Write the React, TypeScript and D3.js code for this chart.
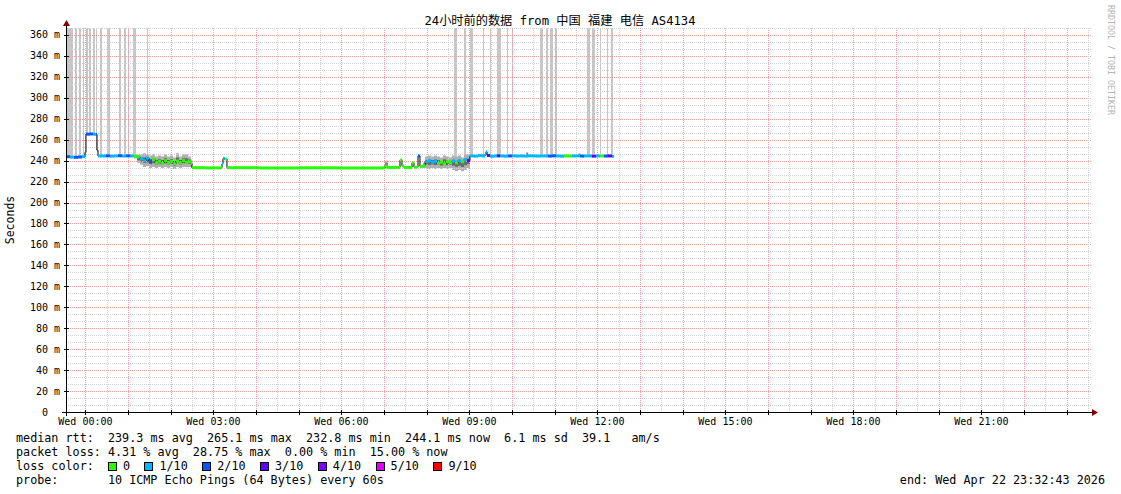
import React from "react";
import * as d3 from "d3";

// SmokePing 24h graph: median RTT coloured by packet loss, smoke = ping spread,
// tall grey bars = intervals where pings went off the top of the graph.

const W = 1121;
const H = 494;
const P = { left: 66, right: 1090, top: 28, bottom: 412 };
const MONO = "'DejaVu Sans Mono', monospace";

// time is in minutes relative to Wed 00:00 (negative = Tuesday evening)
const T_START = -27.28;
const T_END = 1412.72;
const Y_MAX = 366.67;

const xTickMinutes = [0, 180, 360, 540, 720, 900, 1080, 1260];
const xTickLabels = ["Wed 00:00", "Wed 03:00", "Wed 06:00", "Wed 09:00", "Wed 12:00", "Wed 15:00", "Wed 18:00", "Wed 21:00"];
const yTickValues = [0, 20, 40, 60, 80, 100, 120, 140, 160, 180, 200, 220, 240, 260, 280, 300, 320, 340, 360];

// median rtt (ms) and lost pings out of 10
const medT = [
  -27.3, -21.7, -16.0, -10.4, -4.8, -0.6, 0.8, 6.5, 10.7, 14.9, 16.3, 17.7, 23.3, 29.0, 34.6, 40.2, 45.8, 51.5, 57.1, 62.7,
  68.3, 72.6, 76.8, 81.0, 85.2, 89.4, 93.6, 97.9, 102.1, 106.3, 110.5, 114.7, 119.0, 123.2, 127.4, 131.6, 135.8, 140.1, 144.3, 148.5,
  149.9, 168.2, 190.7, 192.1, 193.5, 196.3, 199.1, 245.5, 301.7, 358.0,
  418.5, 421.3, 425.5, 441.0, 442.4, 445.2, 448.0, 457.8, 459.3, 462.1, 466.3, 467.7, 470.5, 474.7,
  477.6, 481.8, 486.0, 490.2, 494.4, 498.7, 502.9, 507.1, 511.3, 515.5, 519.8, 524.0, 528.2, 532.4, 536.6,
  540.8, 546.5, 552.1, 557.7, 561.9, 563.3, 564.8, 569.0, 574.6, 578.8, 583.1, 588.7, 594.3, 599.9, 605.6, 611.2, 616.8, 622.4, 628.1, 633.7,
  639.3, 644.9, 650.6, 656.2, 661.8, 667.4, 673.1, 678.7, 684.3, 689.9, 695.6, 701.2, 706.8, 712.4, 718.1, 723.7, 729.3, 734.9, 740.6, 743.4,
];
const medV = [
  243.8, 243.4, 243.2, 243.5, 243.8, 248.0, 265.3, 265.5, 265.2, 265.0, 250.0, 244.5, 244.5, 244.6, 244.3, 244.5, 244.7, 244.4, 244.6, 244.5,
  244.2, 243.5, 241.5, 240.0, 242.5, 239.0, 241.0, 238.0, 239.5, 237.5, 240.0, 238.0, 239.5, 237.0, 239.5, 238.0, 240.0, 238.5, 239.0, 237.5,
  233.3, 233.1, 233.3, 237.0, 242.0, 241.5, 233.3, 233.0, 233.2, 233.0,
  233.3, 235.0, 233.5, 233.5, 240.5, 235.0, 233.5, 233.5, 238.0, 233.8, 234.0, 244.5, 234.5, 235.5,
  239.0, 240.0, 238.5, 239.5, 237.5, 238.5, 237.0, 239.0, 238.0, 239.5, 238.0, 240.0, 239.0, 241.0, 240.0,
  244.5, 244.3, 244.8, 244.5, 246.0, 248.5, 245.0, 244.2, 244.5, 244.6, 244.5, 244.3, 244.5, 244.6, 244.4, 244.5, 244.4, 244.6, 244.5, 244.4,
  244.5, 244.5, 244.4, 244.6, 244.5, 244.3, 244.5, 244.4, 244.5, 244.6, 244.4, 244.5, 244.5, 244.3, 244.5, 244.5, 244.4, 244.5, 244.1, 244.1,
];
const medLoss = [
  2, 1, 2, 2, 1, 2, 2, 2, 1, 2, 2, 1, 1, 2, 1, 1, 2, 1, 2, 1,
  0, 0, 1, 1, 1, 2, 0, 0, 0, 0, 0, 0, 0, 0, 0, 0, 0, 0, 0, 0,
  0, 0, 0, 1, 1, 0, 0, 0, 0, 0,
  0, 0, 0, 0, 0, 0, 0, 0, 0, 0, 0, 2, 0, 0,
  1, 1, 1, 1, 0, 0, 0, 0, 0, 1, 0, 1, 0, 1, 3,
  1, 1, 1, 1, 1, 1, 3, 1, 1, 3, 1, 1, 2, 1, 1, 1, 1, 1, 1, 1,
  1, 1, 2, 2, 1, 1, 0, 0, 1, 1, 2, 1, 1, 3, 1, 0, 2, 3, 1, 1,
];

// smoke (spread of the 10 pings), null separates pieces
const smokeT = [
  68.3, 72.6, 76.8, 81.0, 85.2, 89.4, 93.6, 97.9, 102.1, 106.3, 110.5, 114.7, 119.0, 123.2, 127.4, 131.6, 135.8, 140.1, 144.3, 148.5, 149.9, null,
  419.9, 421.3, 425.5, 427.0, null,
  474.7, 477.6, 481.8, 486.0, 490.2, 494.4, 498.7, 502.9, 507.1, 511.3, 515.5, 519.8, 524.0, 528.2, 532.4, 536.6, 540.8, null,
  619.8, 622.6, null,
  693.6, 696.4,
];
const smokeLo = [
  242, 238, 236, 234, 235, 233, 234, 233, 234, 233, 234, 233, 234, 232, 234, 233, 234, 234, 234, 233, 233, null,
  233, 232, 233, 233, null,
  233, 233, 232, 233, 232, 233, 232, 233, 232, 233, 231, 230, 231, 230, 231, 233, 243, null,
  244.5, 244.5, null,
  244.5, 244.5,
];
const smokeHi = [
  246, 246, 246, 247, 246, 245, 246, 244, 245, 244, 246, 244, 245, 243, 247, 244, 246, 246, 244, 241, 234, null,
  236, 240, 235, 233, null,
  238, 244, 245, 244, 245, 244, 243, 245, 244, 243, 245, 244, 245, 243, 246, 246, 246, null,
  248, 248, null,
  247, 247,
];

// intervals with pings above the graph top
const offStart = [
  -27.0, -14.6, -8.3, -3.4, 1.5, 5.5, 10.0, 15.6, 21.2, 30.0, 47.3, 53.6, 59.9, 67.6, 86.6,
  518.3, 532.4, 540.8, 559.1, 569.0, 578.8, 592.5, 599.5, 639.3, 647.7, 653.4, 659.7, 705.4, 713.1, 723.7, 734.2, 739.8,
];
const offEnd = [
  -17.9, -11.4, -5.5, -1.3, 4.1, 7.5, 13.5, 17.0, 23.8, 34.6, 49.6, 57.1, 62.0, 71.1, 88.0,
  522.1, 535.2, 544.4, 560.5, 570.4, 584.0, 594.7, 600.9, 642.8, 650.6, 656.9, 662.5, 708.9, 716.6, 725.1, 735.6, 742.6,
];

const lossColors = ["#26ff00", "#00b8ff", "#0059ff", "#5e00ff", "#7e00ff", "#dd00ff", "#ff0000"];
const lossLabels = ["0", "1/10", "2/10", "3/10", "4/10", "5/10", "9/10"];
const lossThresholds = [0, 1, 2, 3, 4, 5, 9];

const rttStats = ["239.3 ms avg", "265.1 ms max", "232.8 ms min", "244.1 ms now", "6.1 ms sd", "39.1   am/s"];
const lossStats = ["4.31 % avg", "28.75 % max", "0.00 % min", "15.00 % now"];
const probeText = "10 ICMP Echo Pings (64 Bytes) every 60s";
const endText = "end: Wed Apr 22 23:32:43 2026";
const titleText = "24小时前的数据 from 中国 福建 电信 AS4134";

const CH = 7.07; // legend char width

function lossIndex(n: number) {
  let k = 0;
  lossThresholds.forEach((t, i) => { if (n >= t) k = i; });
  return k;
}

export default function App() {
  const x = d3.scaleLinear().domain([T_START, T_END]).range([P.left, P.right]);
  const y = d3.scaleLinear().domain([0, Y_MAX]).range([P.bottom, P.top]);
  const sx = (v: number) => Math.round(x(v)) + 0.5;
  const sy = (v: number) => Math.round(y(v)) + 0.5;

  const med = medT.map((t, i) => ({ t, v: medV[i], l: medLoss[i] }));
  const medianAt = (t: number) => {
    const i = Math.max(0, d3.bisectRight(medT, t) - 1);
    return medV[i];
  };

  const smoke = smokeT.map((t, i) => ({ t, lo: smokeLo[i], hi: smokeHi[i] }));
  type S = { t: number | null; lo: number | null; hi: number | null };
  const areaOuter = d3.area<S>()
    .defined((d) => d.t != null)
    .x((d) => x(d.t as number))
    .y0((d) => y(d.lo as number))
    .y1((d) => y(d.hi as number))
    .curve(d3.curveStepAfter);
  const areaInner = d3.area<S>()
    .defined((d) => d.t != null)
    .x((d) => x(d.t as number))
    .y0((d) => y((d.lo as number) + ((d.hi as number) - (d.lo as number)) * 0.3))
    .y1((d) => y((d.hi as number) - ((d.hi as number) - (d.lo as number)) * 0.3))
    .curve(d3.curveStepAfter);

  const medLine = d3.line<{ t: number; v: number }>()
    .x((d) => x(d.t))
    .y((d) => y(d.v))
    .curve(d3.curveStepAfter);

  // grid
  const vMinor: number[] = [];
  for (let m = 0; m <= T_END; m += 30) vMinor.push(m);
  const hLines: number[] = [];
  for (let k = 1; k <= 55; k++) hLines.push(k);

  // loss legend layout
  let lx = 16 + 13 * CH;
  const legendItems = lossLabels.map((lab, i) => {
    const item = { bx: lx, tx: lx + 15, lab, c: lossColors[i] };
    lx = item.tx + lab.length * CH + 14.5;
    return item;
  });

  const rttLine = "median rtt:  " + rttStats.join("  ");
  const lossLine = "packet loss: " + lossStats.join("  ");

  return (
    <svg width={W} height={H} style={{ position: "absolute", left: 0, top: 0, background: "#fff" }}>
      <rect width={W} height={H} fill="#fff" />

      {/* off-scale bars */}
      {offStart.map((s, i) => {
        const x0 = Math.round(x(s));
        const x1 = Math.max(x0 + 1, Math.round(x(offEnd[i])));
        const yb = y(medianAt((s + offEnd[i]) / 2));
        return <rect key={"o" + i} x={x0} y={P.top} width={x1 - x0} height={yb - P.top} fill="#c6c6c6" />;
      })}

      {/* smoke */}
      <path d={areaOuter(smoke as S[]) ?? ""} fill="#b0b0b0" />
      <path d={areaInner(smoke as S[]) ?? ""} fill="#6c6c6c" />

      {/* grid */}
      <g shapeRendering="crispEdges">
        {hLines.map((k) => {
          const v = (k * 20) / 3;
          const major = k % 3 === 0;
          return (
            <line key={"h" + k} x1={P.left} x2={P.right + 2} y1={sy(v)} y2={sy(v)}
              stroke={major ? "#f4a0a0" : "#d2d2d2"} strokeDasharray="1 1" />
          );
        })}
        {vMinor.map((m) => {
          const major = m % 60 === 0;
          return (
            <line key={"v" + m} x1={sx(m)} x2={sx(m)} y1={P.top} y2={P.bottom}
              stroke={major ? "#f4a0a0" : "#d2d2d2"} strokeDasharray="1 1" />
          );
        })}
      </g>

      {/* median */}
      <path d={medLine(med) ?? ""} fill="none" stroke="#000" strokeWidth={1} />
      {med.slice(0, -1).map((d, i) => {
        const x0 = x(d.t);
        const x1 = x(med[i + 1].t);
        return (
          <rect key={"m" + i} x={x0} y={y(d.v) - 1.5} width={Math.max(0.8, x1 - x0)} height={3}
            fill={lossColors[lossIndex(d.l)]} />
        );
      })}

      {/* axes */}
      <g shapeRendering="crispEdges">
        <line x1={P.left + 0.5} x2={P.left + 0.5} y1={P.bottom + 4} y2={P.top - 4} stroke="#000" />
        <line x1={P.left - 4} x2={P.right + 3} y1={P.bottom + 0.5} y2={P.bottom + 0.5} stroke="#000" />
        {yTickValues.map((v) => (
          <line key={"yt" + v} x1={P.left - 2} x2={P.left + 3} y1={sy(v)} y2={sy(v)} stroke="#000" />
        ))}
        {vMinor.filter((m) => m % 60 === 0).map((m) => (
          <line key={"xt" + m} x1={sx(m)} x2={sx(m)} y1={P.bottom - 2} y2={P.bottom + 3} stroke="#000" />
        ))}
      </g>
      <path d={`M${P.left + 0.5},${P.top - 8} L${P.left - 3},${P.top - 2} L${P.left + 4},${P.top - 2} Z`} fill="#800000" />
      <path d={`M${P.right + 8},${P.bottom + 0.5} L${P.right + 2},${P.bottom - 3} L${P.right + 2},${P.bottom + 4} Z`} fill="#800000" />

      {/* y labels */}
      <g fontFamily={MONO} fontSize={10} fill="#000">
        {yTickValues.map((v) => (
          <g key={"yl" + v}>
            <text x={48} y={y(v) + 3.5} textAnchor="end">{v}</text>
            {v !== 0 && <text x={54} y={y(v) + 3.5}>m</text>}
          </g>
        ))}
        {xTickMinutes.map((m, i) => (
          <text key={"xl" + m} x={x(m)} y={425} textAnchor="middle">{xTickLabels[i]}</text>
        ))}
      </g>

      <text transform="translate(14,220) rotate(-90)" textAnchor="middle" fontFamily={MONO} fontSize={11.5}>Seconds</text>

      <text x={560} y={25} textAnchor="middle" fontFamily={"'DejaVu Sans Mono', 'Noto Sans CJK SC', monospace"} fontSize={12.2}>
        {titleText}
      </text>

      <text transform="translate(1108,5) rotate(90)" fontFamily={MONO} fontSize={8.3} fill="#b4b4b4">RRDTOOL / TOBI OETIKER</text>

      {/* legend */}
      <g fontFamily={MONO} fontSize={11.75} fill="#000" style={{ whiteSpace: "pre" }}>
        <text x={16} y={442} xmlSpace="preserve">{rttLine}</text>
        <text x={16} y={456} xmlSpace="preserve">{lossLine}</text>
        <text x={16} y={470} xmlSpace="preserve">loss color:</text>
        {legendItems.map((it) => (
          <g key={it.lab}>
            <rect x={Math.round(it.bx) + 0.5} y={462.5} width={8} height={8} fill={it.c} stroke="#000" />
            <text x={it.tx} y={470}>{it.lab}</text>
          </g>
        ))}
        <text x={16} y={484}>probe:</text>
        <text x={16 + 13 * CH} y={484} xmlSpace="preserve">{probeText}</text>
        <text x={1105} y={484} textAnchor="end">{endText}</text>
      </g>
    </svg>
  );
}
